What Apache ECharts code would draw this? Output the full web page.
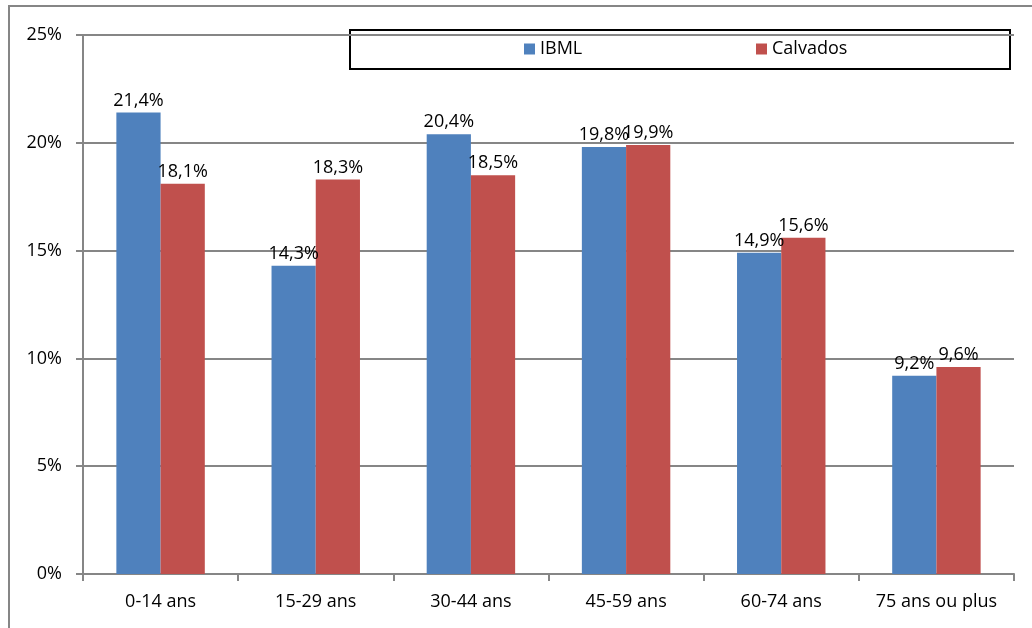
<!DOCTYPE html>
<html>
<head>
<meta charset="utf-8">
<script src="https://cdn.jsdelivr.net/npm/echarts@6/dist/echarts.min.js"></script>
<style>
  html, body { margin: 0; padding: 0; background: #fff; }
  #chart { width: 1032px; height: 628px; }
</style>
</head>
<body>
<div id="chart"></div>
<script>
// Population by age group (% of total)
const categories = ['0-14 ans', '15-29 ans', '30-44 ans', '45-59 ans', '60-74 ans', '75 ans ou plus'];
const ibml = [21.4, 14.3, 20.4, 19.8, 14.9, 9.2];
const calvados = [18.1, 18.3, 18.5, 19.9, 15.6, 9.6];
const seriesNames = ['IBML', 'Calvados'];

const FONT = 'Open Sans';
const FS = 18;
const GRAY = '#868686';

const fmtPct = v => v.toFixed(1).replace('.', ',') + '%';

const chart = echarts.init(document.getElementById('chart'), null, { renderer: 'canvas' });

const barLabel = {
  show: true,
  position: 'top',
  distance: 3,
  color: '#000',
  fontFamily: FONT,
  fontSize: FS,
  formatter: p => fmtPct(p.value)
};

chart.setOption({
  animation: false,
  backgroundColor: '#fff',
  textStyle: { fontFamily: FONT },
  graphic: [
    {
      type: 'rect',
      shape: { x: 9, y: 6, width: 1040, height: 640 },
      style: { fill: 'none', stroke: GRAY, lineWidth: 2 },
      silent: true
    },
    {
      type: 'rect',
      shape: { x: 350, y: 30, width: 660, height: 39 },
      style: { fill: '#fff', stroke: '#000', lineWidth: 2 },
      z: 0,
      silent: true
    }
  ],
  legend: [
    {
      data: [seriesNames[0]],
      left: 524, top: 40,
      padding: 0,
      icon: 'rect', itemWidth: 11, itemHeight: 11, itemGap: 5,
      textStyle: { color: '#000', fontFamily: FONT, fontSize: FS }
    },
    {
      data: [seriesNames[1]],
      left: 756, top: 40,
      padding: 0,
      icon: 'rect', itemWidth: 11, itemHeight: 11, itemGap: 5,
      textStyle: { color: '#000', fontFamily: FONT, fontSize: FS }
    }
  ],
  grid: { left: 83, right: 18, top: 35, bottom: 54, containLabel: false },
  xAxis: {
    type: 'category',
    data: categories,
    axisLine: { lineStyle: { color: GRAY, width: 2 } },
    axisTick: { show: true, interval: 0, length: 7, alignWithLabel: false, lineStyle: { color: GRAY, width: 2 } },
    axisLabel: { interval: 0, hideOverlap: false, color: '#000', fontFamily: FONT, fontSize: FS, margin: 19 }
  },
  yAxis: {
    type: 'value',
    min: 0, max: 25, interval: 5,
    axisLine: { show: true, lineStyle: { color: GRAY, width: 2 } },
    axisTick: { show: true, length: 7, lineStyle: { color: GRAY, width: 2 } },
    splitLine: { show: true, lineStyle: { color: GRAY, width: 2 } },
    axisLabel: { color: '#000', fontFamily: FONT, fontSize: FS, margin: 21, formatter: v => v + '%' }
  },
  series: [
    {
      name: seriesNames[0],
      type: 'bar',
      data: ibml,
      barGap: '0%',
      barCategoryGap: '43%',
      itemStyle: { color: '#4F81BD' },
      label: barLabel
    },
    {
      name: seriesNames[1],
      type: 'bar',
      data: calvados,
      barGap: '0%',
      barCategoryGap: '43%',
      itemStyle: { color: '#C0504D' },
      label: barLabel
    }
  ]
});
</script>
</body>
</html>
